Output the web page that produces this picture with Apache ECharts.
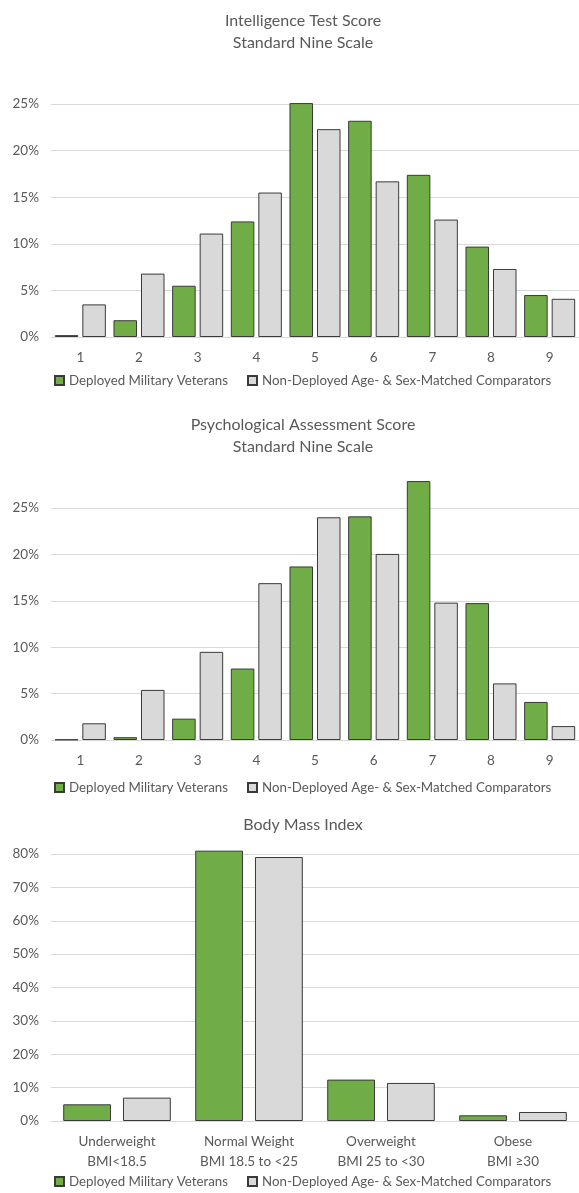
<!DOCTYPE html>
<html><head><meta charset="utf-8">
<script src="https://cdn.jsdelivr.net/npm/echarts@6/dist/echarts.min.js"></script>
<style>html,body{margin:0;padding:0;background:#fff}#c{width:579px;height:1193px}</style>
</head><body><div id="c"></div>
<script>
const stanineCats = ['1','2','3','4','5','6','7','8','9'];
const iqVeterans = [0.2, 1.8, 5.5, 12.4, 25.1, 23.2, 17.4, 9.7, 4.5];
const iqComparators = [3.5, 6.8, 11.1, 15.5, 22.3, 16.7, 12.6, 7.3, 4.1];
const psyVeterans = [0.05, 0.3, 2.3, 7.7, 18.7, 24.1, 27.9, 14.75, 4.1];
const psyComparators = [1.8, 5.4, 9.5, 16.9, 24.0, 20.05, 14.8, 6.1, 1.5];
const bmiCats = ['Underweight\nBMI<18.5', 'Normal Weight\nBMI 18.5 to <25', 'Overweight\nBMI 25 to <30', 'Obese\nBMI \u226530'];
const bmiVeterans = [5.0, 81.0, 12.4, 1.7];
const bmiComparators = [7.0, 79.1, 11.4, 2.7];
const seriesNames = ['Deployed Military Veterans', 'Non-Deployed Age- & Sex-Matched Comparators'];
const titles = ['Intelligence Test Score\nStandard Nine Scale', 'Psychological Assessment Score\nStandard Nine Scale', 'Body Mass Index'];

const FONT = 'Lato';
const TXT = '#595959';
const colors = ['#70AD47', '#D9D9D9'];

const grids = [
  {left: 51, right: 0, top: 104, height: 233},
  {left: 51, right: 0, top: 508, height: 232},
  {left: 51, right: 0, top: 854, height: 267}
];
const yCfg = [{max: 25, interval: 5}, {max: 25, interval: 5}, {max: 80, interval: 10}];
const xData = [stanineCats, stanineCats, bmiCats];
const data = [[iqVeterans, iqComparators], [psyVeterans, psyComparators], [bmiVeterans, bmiComparators]];
const gapCfg = [{cat: '13%', gap: '17%'}, {cat: '13%', gap: '17%'}, {cat: '18.5%', gap: '25%'}];
const titleTops = [5, 409, 809];
const legendTops = [369, 776, 1170];

const series = [];
for (let g = 0; g < 3; g++) {
  for (let s = 0; s < 2; s++) {
    series.push({
      type: 'bar', name: seriesNames[s], xAxisIndex: g, yAxisIndex: g,
      data: data[g][s], clip: false,
      barCategoryGap: gapCfg[g].cat, barGap: gapCfg[g].gap,
      itemStyle: {color: colors[s], borderColor: '#3a3a3a', borderWidth: 1},
      emphasis: {disabled: true}
    });
  }
}

const option = {
  animation: false,
  textStyle: {fontFamily: FONT},
  title: titles.map((t, i) => ({
    text: t, left: 298, top: titleTops[i], textAlign: 'center',
    textStyle: {fontFamily: FONT, fontSize: 16, fontWeight: 'normal', color: TXT, lineHeight: 22}
  })),
  legend: legendTops.map(t => ({
    top: t, left: 49, itemWidth: 9, itemHeight: 9, itemGap: 19,
    icon: 'rect', selectedMode: false, data: seriesNames,
    textStyle: {fontFamily: FONT, fontSize: 13.3, color: TXT, padding: [0, 0, 0, 0]}
  })),
  grid: grids,
  xAxis: xData.map((d, i) => ({
    type: 'category', gridIndex: i, data: d,
    axisLine: {lineStyle: {color: '#d9d9d9'}}, axisTick: {show: false},
    axisLabel: {color: TXT, fontFamily: FONT, fontSize: 13.5, margin: 11, lineHeight: 20, interval: 0}
  })),
  yAxis: yCfg.map((c, i) => ({
    type: 'value', gridIndex: i, min: 0, max: c.max, interval: c.interval,
    axisLine: {show: false}, axisTick: {show: false},
    splitLine: {lineStyle: {color: '#d9d9d9'}},
    axisLabel: {color: TXT, fontFamily: FONT, fontSize: 13.5, margin: 12, formatter: '{value}%'}
  })),
  series: series
};
const chart = echarts.init(document.getElementById('c'), null, {renderer: 'canvas'});
chart.setOption(option);
</script></body></html>
